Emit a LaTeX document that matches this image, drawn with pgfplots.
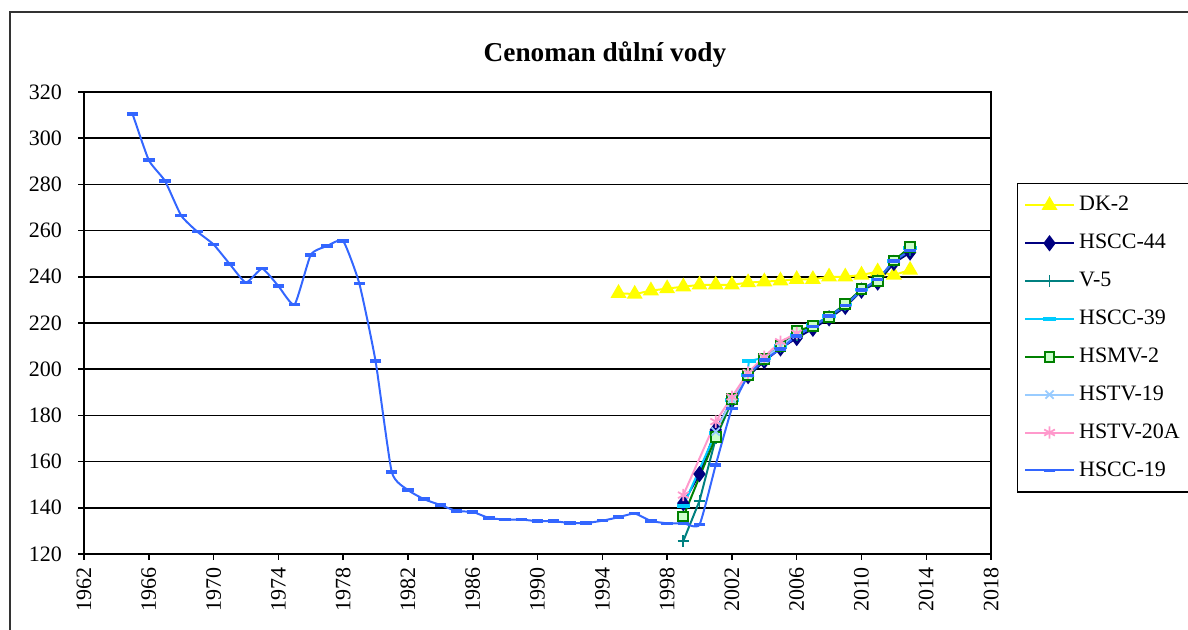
\documentclass[border=0pt]{standalone}
\usepackage{fontspec}
\setmainfont{Liberation Serif}
\usepackage{pgfplots}
\pgfplotsset{compat=1.18}

\definecolor{dkyel}{RGB}{255,255,0}
\definecolor{navy44}{RGB}{0,0,128}
\definecolor{teal5}{RGB}{0,128,128}
\definecolor{cyan39}{RGB}{0,204,255}
\definecolor{green2}{RGB}{0,128,0}
\definecolor{lgreen}{RGB}{204,255,204}
\definecolor{lblue19}{RGB}{153,204,255}
\definecolor{pink20}{RGB}{255,153,204}
\definecolor{blue19}{RGB}{51,102,255}

\begin{document}
\begin{tikzpicture}
\path[use as bounding box] (0,0) rectangle (540pt,286.36pt);
\clip (0,0) rectangle (540pt,286.36pt);
% outer chart frame (right and bottom edges lie outside the picture)
\draw[black!80, line width=0.9pt] (4.4pt,-20pt) -- (4.4pt,280.9pt) -- (560pt,280.9pt);
\node[font=\fontsize{12.4}{14}\selectfont\bfseries] at (275pt,261.4pt) {Cenoman důlní vody};

\begin{axis}[
    at={(38.18pt,34.55pt)}, anchor=south west,
    scale only axis,
    width=412.3pt, height=210pt,
    xmin=1962, xmax=2018,
    ymin=120, ymax=320,
    xtick={1962,1966,...,2018},
    ytick={120,140,...,320},
    tick pos=left,
    tick align=outside,
    major tick length=2.7pt,
    tick style={black, line width=0.7pt},
    axis line style={black, line width=0.8pt},
    ymajorgrids,
    grid style={black, line width=0.7pt},
    /pgf/number format/1000 sep={},
    /pgf/number format/assume math mode=true,
    tick label style={font=\fontsize{10}{12}\selectfont},
    xticklabel style={rotate=90, anchor=east},
    yticklabel style={xshift=-3.8pt},
    legend cell align=left,
    legend style={at={(1.0287,0.803)}, anchor=north west,
        draw=black, line width=0.6pt,
        font=\fontsize{10}{12}\selectfont,
        row sep=5.1pt, inner xsep=3pt, inner ysep=3.8pt},
    legend image code/.code={%
        \draw[mark repeat=2,mark phase=2,#1]
        plot coordinates {(0pt,0pt) (11pt,0pt) (22pt,0pt)};},
]
\addplot[dkyel, line width=0.9pt, mark=triangle*, mark size=3.3pt,
    mark options={fill=dkyel, draw=dkyel}] coordinates {
    (1995,232.9) (1996,232.5) (1997,234.0) (1998,234.9) (1999,235.7)
    (2000,236.5) (2001,236.5) (2002,236.5) (2003,237.5) (2004,237.9)
    (2005,238.3) (2006,238.9) (2007,238.9) (2008,240.0) (2009,240.0)
    (2010,240.8) (2011,242.2) (2012,240.8) (2013,242.9)
};
\addlegendentry{DK-2}

\addplot[navy44, line width=0.9pt, mark=diamond*, mark size=3pt,
    mark options={fill=navy44}] coordinates {
    (1999,142.0) (2000,154.6) (2001,173.7) (2002,186.5) (2003,197.0)
    (2004,203.5) (2005,209.0) (2006,213.5) (2007,217.5) (2008,222.0)
    (2009,227.0) (2010,234.0) (2011,237.5) (2012,246.0) (2013,250.5)
};
\addlegendentry{HSCC-44}

\addplot[teal5, line width=0.9pt, mark=+, mark size=2.6pt,
    mark options={line width=0.8pt}] coordinates {
    (1999,125.6) (2000,143.0) (2001,170.0) (2002,186.0) (2003,197.5)
    (2004,204.0) (2005,209.5) (2006,214.5) (2007,218.5) (2008,222.5)
    (2009,227.5) (2010,234.0) (2011,238.5) (2012,246.5) (2013,251.5)
};
\addlegendentry{V-5}

\addplot[cyan39, line width=0.9pt, mark=-, mark size=3pt,
    mark options={line width=1.8pt}] coordinates {
    (1999,140.8) (2001,172.5) (2002,186.5) (2002.95,197.5) (2003.05,203.5)
    (2004,205.0) (2005,210.0) (2006,215.0) (2007,219.0) (2008,223.0)
    (2009,228.0) (2010,234.5) (2011,238.5) (2012,247.0) (2013,252.5)
};
\addlegendentry{HSCC-39}

\addplot[green2, line width=0.9pt, mark=square*, mark size=2.2pt,
    mark options={fill=lgreen, draw=green2, line width=0.9pt}] coordinates {
    (1999,136.2) (2001,170.5) (2002,187.0) (2003,197.5) (2004,204.4)
    (2005,210.0) (2006,216.5) (2007,218.7) (2008,222.7) (2009,228.2)
    (2010,234.6) (2011,238.3) (2012,247.0) (2013,252.8)
};
\addlegendentry{HSMV-2}

\addplot[lblue19, line width=0.9pt, mark=x, mark size=2.6pt,
    mark options={line width=0.8pt}] coordinates {
    (2001,173.0) (2002,187.0) (2003,198.0) (2004,204.5) (2005,210.0)
    (2006,215.0)
};
\addlegendentry{HSTV-19}

\addplot[pink20, line width=0.9pt, mark=asterisk, mark size=2.8pt,
    mark options={line width=0.8pt}] coordinates {
    (1999,145.5) (2001,177.3) (2002,188.0) (2003,198.5) (2004,205.4)
    (2005,211.9) (2006,215.6)
};
\addlegendentry{HSTV-20A}

\addplot[blue19, line width=0.9pt, smooth, tension=0.3, mark=-, mark size=2.6pt,
    mark options={line width=1.6pt}] coordinates {
    (1965,310.5) (1966,290.5) (1967,281.5) (1968,266.5) (1969,259.5)
    (1970,254.0) (1971,245.5) (1972,237.5) (1973,243.5) (1974,236.0)
    (1975,228.0) (1976,249.5) (1977,253.3) (1978,255.5) (1979,237.0)
    (1980,203.5) (1981,155.5) (1982,147.7) (1983,143.7) (1984,141.2)
    (1985,138.6) (1986,138.2) (1987,135.6) (1988,134.9) (1989,134.9)
    (1990,134.2) (1991,134.2) (1992,133.4) (1993,133.4) (1994,134.4)
    (1995,135.9) (1996,137.5) (1997,134.3) (1998,133.3) (1999,133.3)
    (2000,132.7) (2001,158.5) (2002,183.0) (2003,197.2) (2004,204.0)
    (2005,208.7) (2006,214.4) (2007,218.4) (2008,223.0) (2009,227.6)
    (2010,234.3) (2011,238.9) (2012,246.8) (2013,251.3)
};
\addlegendentry{HSCC-19}
\end{axis}
\end{tikzpicture}
\end{document}
